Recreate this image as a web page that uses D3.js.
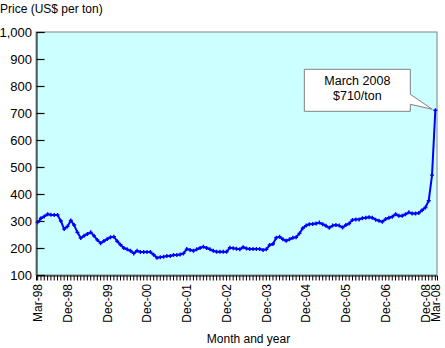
<!DOCTYPE html>
<html>
<head>
<meta charset="utf-8">
<script src="https://cdn.jsdelivr.net/npm/d3@7/dist/d3.min.js"></script>
<style>
  html, body { margin: 0; padding: 0; background: #ffffff; }
  svg { display: block; font-family: "Liberation Sans", Arial, sans-serif; }
</style>
</head>
<body>
<svg id="chart" width="445" height="348"></svg>
<script>
// ---- Data ----
const startMonth = "1998-03";
const endMonth = "2008-03";
const prices = [
  295, 310, 317, 325, 323, 322, 322, 300, 270, 280,
  302, 285, 258, 237, 245, 252, 258, 245, 230, 218,
  226, 233, 240, 242, 225, 212, 200, 195, 190, 180,
  190, 185, 185, 185, 185, 175, 164, 166, 168, 170,
  170, 174, 174, 176, 180, 196, 193, 190, 195, 200,
  205, 200, 195, 190, 186, 186, 186, 186, 201, 199,
  197, 195, 203, 198, 196, 196, 196, 196, 193, 195,
  211, 215, 238, 242, 232, 227, 232, 238, 240, 254,
  273, 283, 288, 289, 291, 294, 288, 282, 275, 283,
  285, 283, 276, 285, 291, 304, 306, 306, 310, 312,
  314, 312, 305, 301, 297, 307, 312, 316, 325, 319,
  319, 325, 332, 328, 328, 330, 340, 350, 375, 470,
  710
];
const xTickMonths = ["1998-03","1998-12","1999-12","2000-12","2001-12","2002-12","2003-12","2004-12","2005-12","2006-12","2007-12","2008-03"];
const xTickLabels = ["Mar-98","Dec-98","Dec-99","Dec-00","Dec-01","Dec-02","Dec-03","Dec-04","Dec-05","Dec-06","Dec-08","Mar-08"];
const yTicks = [100, 200, 300, 400, 500, 600, 700, 800, 900, 1000];
const yTitle = "Price (US$ per ton)";
const xTitle = "Month and year";
const calloutLines = ["March 2008", "$710/ton"];

// ---- Build month categories ----
const parse = d3.timeParse("%Y-%m");
const fmtKey = d3.timeFormat("%Y-%m");
const months = d3.timeMonth.range(parse(startMonth), d3.timeMonth.offset(parse(endMonth), 1)).map(fmtKey);
const data = months.map((m, i) => ({ month: m, value: prices[i] }));

// ---- Layout ----
const svg = d3.select("#chart");
const plot = { left: 36, right: 437, top: 32, bottom: 275 };

const x = d3.scaleBand().domain(months).range([plot.left, plot.right]).padding(0);
const xc = m => x(m) + x.bandwidth() / 2;
const y = d3.scaleLinear().domain([100, 1000]).range([plot.bottom, plot.top]);

// plot background
svg.append("rect")
  .attr("x", plot.left).attr("y", plot.top)
  .attr("width", plot.right - plot.left).attr("height", plot.bottom - plot.top)
  .attr("fill", "#ccffff")
  .attr("stroke", "#808080").attr("stroke-width", 1);

// y axis (inward ticks)
const yAxis = d3.axisRight(y).tickValues(yTicks).tickSize(8).tickFormat("");
const gy = svg.append("g").attr("transform", `translate(${plot.left + 0.5},0)`).call(yAxis);
gy.select(".domain").attr("stroke", "#000");
gy.selectAll(".tick line").attr("stroke", "#000").attr("stroke-width", 1.2);
// y labels
svg.append("g").selectAll("text").data(yTicks).join("text")
  .attr("x", plot.left - 4).attr("y", d => y(d)).attr("dy", "0.36em")
  .attr("text-anchor", "end").attr("font-size", 13).attr("fill", "#000")
  .text(d => d3.format(",")(d));

// x axis minor ticks
const xAxis = d3.axisBottom(x).tickSize(5).tickFormat("");
const gx = svg.append("g").attr("transform", `translate(0,${plot.bottom + 0.5})`).call(xAxis);
gx.select(".domain").attr("stroke", "#000");
gx.selectAll(".tick line").attr("stroke", "#000");

// x labels (rotated)
svg.append("g").selectAll("text").data(xTickMonths).join("text")
  .attr("transform", (d) => `translate(${xc(d)},${plot.bottom + 9}) rotate(-90)`)
  .attr("dy", "0.36em")
  .attr("text-anchor", "end").attr("font-size", 12).attr("fill", "#000")
  .text((d, i) => xTickLabels[i]);

// line
const line = d3.line().x(d => xc(d.month)).y(d => y(d.value));
svg.append("path").datum(data)
  .attr("d", line).attr("fill", "none")
  .attr("stroke", "#0000ff").attr("stroke-width", 2).attr("stroke-linejoin", "round");

// markers (small plus signs)
svg.append("g").selectAll("path").data(data).join("path")
  .attr("d", d => {
    const cx = xc(d.month), cy = y(d.value);
    return `M${cx - 2},${cy}H${cx + 2}M${cx},${cy - 2}V${cy + 2}`;
  })
  .attr("stroke", "#0000ff").attr("stroke-width", 1.4);

// titles
svg.append("text").attr("x", 0).attr("y", 13)
  .attr("font-size", 12).attr("fill", "#000").text(yTitle);
svg.append("text").attr("x", (plot.left + plot.right) / 2 + 12).attr("y", 343)
  .attr("text-anchor", "middle").attr("font-size", 12).attr("fill", "#000").text(xTitle);

// callout
const last = data[data.length - 1];
const px = xc(last.month), py = y(last.value);
const bRight = px - 25, bLeft = px - 131, bTop = py - 41, bBot = py + 1;
const callout = d3.path();
callout.moveTo(bLeft, bTop);
callout.lineTo(bRight, bTop);
callout.lineTo(bRight, py - 16);
callout.lineTo(px - 3, py - 1);
callout.lineTo(bRight, py - 6);
callout.lineTo(bRight, bBot);
callout.lineTo(bLeft, bBot);
callout.closePath();
svg.append("path").attr("d", callout.toString())
  .attr("fill", "#ffffff").attr("stroke", "#808080").attr("stroke-width", 1);
svg.append("g").selectAll("text").data(calloutLines).join("text")
  .attr("x", (bLeft + bRight) / 2).attr("y", (d, i) => bTop + 16 + i * 15)
  .attr("text-anchor", "middle").attr("font-size", 12.5).attr("fill", "#000")
  .text(d => d);
</script>
</body>
</html>
